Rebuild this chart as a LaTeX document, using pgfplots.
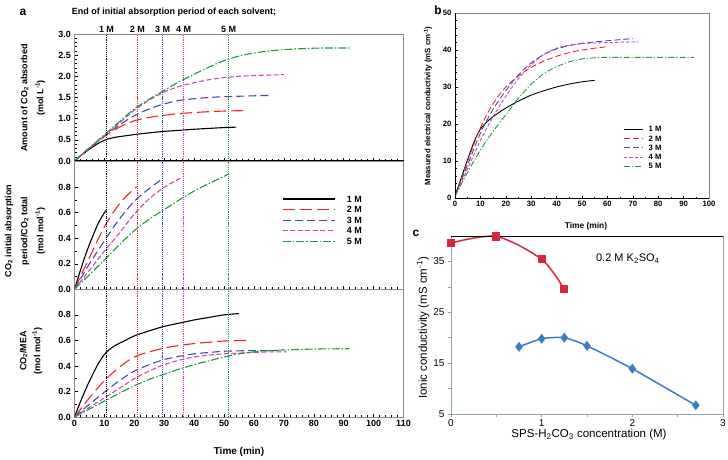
\documentclass[border=0pt]{standalone}
\usepackage{fontspec}
\setmainfont{Liberation Sans}
\usepackage{pgfplots}
\pgfplotsset{compat=1.18}
\definecolor{cRed}{HTML}{E8262A}
\definecolor{cBlue}{HTML}{3A4FA0}
\definecolor{cMag}{HTML}{CC44BB}
\definecolor{cGreen}{HTML}{1E9A3C}
\definecolor{cRedC}{HTML}{D7263D}
\definecolor{cBlueC}{HTML}{3B7CC2}
\definecolor{axgray}{HTML}{8A8A8A}
\definecolor{axgrayc}{HTML}{8FA3AF}
\tikzset{
  s1/.style={black, line width=1.1pt, solid},
  s2/.style={cRed, line width=1.1pt, dash pattern=on 12pt off 5pt},
  s3/.style={cBlue, line width=1.1pt, dash pattern=on 8pt off 4pt},
  s4/.style={cMag, line width=1.1pt, dash pattern=on 5pt off 2.5pt},
  s5/.style={cGreen, line width=1.1pt, dash pattern=on 8pt off 2pt on 1.5pt off 2pt},
  mlab/.style={anchor=south, inner sep=1.5pt, font=\fontsize{9}{11}\selectfont\bfseries},
}
\pgfplotsset{
  vl/.style={line width=0.9pt, densely dotted, forget plot},
  panelA/.style={scale only axis, width=329pt, xmin=0, xmax=110,
    xtick={0,10,...,110}, minor x tick num=4,
    xtick pos=bottom, ytick pos=left,
    axis line style={axgray, line width=0.8pt},
    tick style={black, line width=0.5pt},
    major tick length=3pt, minor tick length=2pt, tick align=inside,
    /pgf/number format/assume math mode=true,
    tick label style={font=\fontsize{9}{11}\selectfont\bfseries},
    yticklabel style={/pgf/number format/fixed, /pgf/number format/fixed zerofill, /pgf/number format/precision=1},
    every axis plot/.append style={smooth, mark=none}},
}
\begin{document}
\begin{tikzpicture}
\path[use as bounding box] (0pt,0pt) rectangle (728pt,459pt);
% ---------- panel a top
\begin{axis}[panelA, at={(74.5pt,298pt)}, anchor=south west, height=127pt,
  ymin=0, ymax=3, ytick={0,0.5,...,3}, minor y tick num=4, xticklabels={}, clip=false]
\addplot[s1] coordinates {(0,0)(2,0.12)(4,0.23)(6,0.33)(8,0.42)(10,0.49)(12,0.535)(14,0.565)(17,0.595)(20,0.625)(25,0.665)(30,0.70)(35,0.725)(40,0.75)(45,0.77)(50,0.79)(54,0.80)};
\addplot[s2] coordinates {(0,0)(5,0.3)(10,0.58)(15,0.8)(20,0.95)(25,1.03)(30,1.08)(35,1.12)(40,1.145)(45,1.165)(50,1.18)(57,1.19)};
\addplot[s3] coordinates {(0,0)(5,0.31)(10,0.59)(15,0.85)(20,1.07)(25,1.23)(30,1.35)(35,1.43)(40,1.47)(45,1.5)(50,1.52)(55,1.53)(60,1.54)(66,1.55)};
\addplot[s4] coordinates {(0,0)(5,0.31)(10,0.6)(15,0.9)(20,1.2)(25,1.44)(30,1.63)(35,1.76)(40,1.85)(45,1.92)(50,1.97)(55,2.0)(60,2.02)(65,2.03)(70,2.04)};
\addplot[s5] coordinates {(0,0)(5,0.31)(10,0.62)(15,0.93)(20,1.23)(25,1.46)(30,1.67)(35,1.87)(40,2.05)(45,2.22)(50,2.37)(55,2.48)(60,2.55)(65,2.6)(70,2.63)(75,2.65)(80,2.665)(85,2.67)(92,2.67)};
\addplot[vl, black] coordinates {(10.7,0)(10.7,3)};
\addplot[vl, cRed] coordinates {(21,0)(21,3)};
\addplot[vl, cBlue] coordinates {(29.5,0)(29.5,3)};
\addplot[vl, cMag] coordinates {(36.5,0)(36.5,3)};
\addplot[vl, cGreen] coordinates {(51.5,0)(51.5,3)};
\draw[black, line width=1.3pt] (rel axis cs:0,0) -- (rel axis cs:1,0);
\node[mlab] at (axis cs:10.7,3) {1 M};
\node[mlab] at (axis cs:21,3) {2 M};
\node[mlab] at (axis cs:29.5,3) {3 M};
\node[mlab] at (axis cs:36.5,3) {4 M};
\node[mlab] at (axis cs:51.5,3) {5 M};
\end{axis}
% ---------- panel a middle
\begin{axis}[panelA, at={(74.5pt,169.7pt)}, anchor=south west, height=127.6pt,
  ymin=0, ymax=1, ytick={0,0.2,...,0.8}, minor y tick num=1, xticklabels={},
  legend style={at={(0.622,0.76)}, anchor=north west, draw=none, fill=none,
    font=\fontsize{9}{10}\selectfont\bfseries, row sep=1.6pt,
    nodes={inner sep=0.5pt, text height=7pt, text depth=1pt},
    /tikz/every odd column/.append style={column sep=11pt}},
  legend image code/.code={\draw[#1] (0pt,0pt) -- (52pt,0pt);}]
\addplot[s1] coordinates {(0,0)(2,0.15)(4,0.29)(6,0.41)(8,0.52)(10,0.6)(10.7,0.62)};
\addplot[s2] coordinates {(0,0)(5,0.25)(10,0.49)(15,0.67)(20,0.79)(21,0.80)};
\addplot[s3] coordinates {(0,0)(5,0.2)(10,0.38)(15,0.55)(20,0.69)(25,0.79)(29.5,0.867)};
\addplot[s4] coordinates {(0,0)(5,0.15)(10,0.3)(15,0.44)(20,0.59)(25,0.71)(30,0.8)(36.5,0.885)};
\addplot[s5] coordinates {(0,0)(5,0.115)(10,0.23)(15,0.35)(20,0.46)(25,0.55)(30,0.625)(35,0.7)(40,0.77)(45,0.83)(50,0.885)(51.5,0.905)};
\legend{1 M, 2 M, 3 M, 4 M, 5 M}
\addplot[vl, black] coordinates {(10.7,0)(10.7,1)};
\addplot[vl, cRed] coordinates {(21,0)(21,1)};
\addplot[vl, cBlue] coordinates {(29.5,0)(29.5,1)};
\addplot[vl, cMag] coordinates {(36.5,0)(36.5,1)};
\addplot[vl, cGreen] coordinates {(51.5,0)(51.5,1)};
\end{axis}
% ---------- panel a bottom
\begin{axis}[panelA, at={(74.5pt,42pt)}, anchor=south west, height=127.7pt,
  ymin=0, ymax=1, ytick={0,0.2,...,0.8}, minor y tick num=1]
\addplot[s1] coordinates {(0,0)(2,0.12)(4,0.23)(6,0.33)(8,0.42)(10,0.49)(12,0.535)(14,0.565)(17,0.60)(20,0.635)(25,0.675)(30,0.71)(35,0.735)(40,0.76)(45,0.78)(50,0.80)(55,0.81)};
\addplot[s2] coordinates {(0,0)(5,0.15)(10,0.285)(15,0.39)(20,0.47)(25,0.51)(30,0.54)(35,0.56)(40,0.575)(45,0.585)(50,0.595)(59,0.60)};
\addplot[s3] coordinates {(0,0)(5,0.1)(10,0.195)(15,0.285)(20,0.36)(25,0.41)(30,0.45)(35,0.475)(40,0.495)(45,0.505)(50,0.515)(60,0.52)(68,0.52)};
\addplot[s4] coordinates {(0,0)(5,0.075)(10,0.15)(15,0.225)(20,0.30)(25,0.36)(30,0.41)(35,0.445)(40,0.47)(45,0.485)(50,0.495)(55,0.50)(60,0.505)(65,0.51)(71,0.51)};
\addplot[s5] coordinates {(0,0)(5,0.062)(10,0.124)(15,0.186)(20,0.245)(25,0.295)(30,0.335)(35,0.375)(40,0.41)(45,0.44)(50,0.47)(55,0.495)(60,0.51)(65,0.52)(70,0.525)(80,0.532)(92,0.535)};
\addplot[vl, black] coordinates {(10.7,0)(10.7,1)};
\addplot[vl, cRed] coordinates {(21,0)(21,1)};
\addplot[vl, cBlue] coordinates {(29.5,0)(29.5,1)};
\addplot[vl, cMag] coordinates {(36.5,0)(36.5,1)};
\addplot[vl, cGreen] coordinates {(51.5,0)(51.5,1)};
\end{axis}
% labels panel a
\node[font=\fontsize{12}{14}\selectfont\bfseries] at (23pt,447pt) {a};
\node[font=\fontsize{9}{11}\selectfont\bfseries] at (174pt,447pt) {End of initial absorption period of each solvent;};
\node[rotate=90, align=center, font=\fontsize{9}{16}\selectfont\bfseries] at (33pt,361pt) {Amount of CO\textsubscript{2} absorbed\\(mol L\textsuperscript{-1})};
\node[rotate=90, align=center, font=\fontsize{9}{16}\selectfont\bfseries] at (25pt,228pt) {CO\textsubscript{2} initial absorption\\period/CO\textsubscript{2} total\\(mol mol\textsuperscript{-1})};
\node[rotate=90, align=center, font=\fontsize{9}{14}\selectfont\bfseries] at (31pt,108pt) {CO\textsubscript{2}/MEA\\(mol mol\textsuperscript{-1})};
\node[font=\fontsize{10}{12}\selectfont\bfseries] at (239pt,7pt) {Time (min)};
% ---------- panel b
\begin{axis}[at={(455pt,261pt)}, anchor=south west, scale only axis, width=254pt, height=185pt,
  xmin=0, xmax=100, ymin=0, ymax=50, xtick={0,10,...,100}, ytick={0,10,...,50},
  minor x tick num=1, minor y tick num=4,
  axis line style={axgray, line width=1pt},
  tick style={black, line width=0.5pt}, major tick length=2.5pt, minor tick length=1.5pt, tick align=inside,
  xtick pos=bottom, ytick pos=left,
  /pgf/number format/assume math mode=true,
  tick label style={font=\fontsize{7.7}{9}\selectfont\bfseries},
  every axis plot/.append style={smooth, mark=none},
  legend style={at={(0.65,0.405)}, anchor=north west, draw=none, fill=none,
    font=\fontsize{7.7}{9}\selectfont\bfseries, row sep=1.3pt,
    nodes={inner sep=0.5pt, text height=6pt, text depth=1pt},
    /tikz/every odd column/.append style={column sep=5pt}},
  legend image code/.code={\draw[#1] (0pt,0pt) -- (19pt,0pt);}]
\addplot[s1, line width=0.9pt] coordinates {(0,0.5)(2,4.5)(4,8.5)(6,12.4)(8,16)(10,18.6)(12,20.2)(15,22)(20,24.3)(25,26.2)(30,27.8)(35,29)(40,30)(45,30.8)(50,31.4)(55,31.8)};
\addplot[s2, line width=0.9pt, dash pattern=on 6pt off 3pt] coordinates {(0,0.5)(5,10)(10,19)(15,25.5)(20,30)(25,33)(30,35.3)(35,37)(40,38.3)(45,39.3)(50,40)(55,40.5)(60,40.9)};
\addplot[s3, line width=0.9pt, dash pattern=on 6pt off 3pt] coordinates {(0,0.5)(5,9)(10,17.5)(15,24)(20,29)(25,33.3)(30,36.5)(35,38.8)(40,40.3)(45,41.2)(50,41.8)(55,42.2)(60,42.5)(65,42.8)(70,43.1)};
\addplot[s4, line width=0.9pt, dash pattern=on 3.5pt off 2pt] coordinates {(0,0.5)(5,8)(10,15.5)(15,22)(20,27.5)(25,32.3)(30,36)(35,38.8)(40,40.5)(45,41.3)(50,41.7)(55,41.9)(60,42)(65,42.1)(72,42.2)};
\addplot[s5, line width=0.9pt, dash pattern=on 6pt off 2pt on 1.2pt off 2pt] coordinates {(0,0.5)(5,7)(10,13)(15,18)(20,22.5)(25,27)(30,30.8)(35,33.6)(40,35.5)(45,36.8)(50,37.6)(55,37.9)(60,38)(70,38)(80,38)(94,38)};
\legend{1 M, 2 M, 3 M, 4 M, 5 M}
\draw[black, line width=1pt] (rel axis cs:0,1) -- (rel axis cs:0,0) -- (rel axis cs:1,0);
\end{axis}
\node[font=\fontsize{12}{14}\selectfont\bfseries] at (438pt,449pt) {b};
\node[rotate=90, font=\fontsize{7.8}{9}\selectfont\bfseries] at (428pt,353pt) {Measured electrical conductivity (mS cm\textsuperscript{-1})};
\node[font=\fontsize{8.4}{10}\selectfont\bfseries] at (586pt,233pt) {Time (min)};
% ---------- panel c
\begin{axis}[at={(451pt,45pt)}, anchor=south west, scale only axis, width=272pt, height=178pt,
  xmin=0, xmax=3, ymin=5, ymax=40, xtick={0,1,2,3}, ytick={5,15,25,35},
  minor xtick={0.5,1.5,2.5}, minor ytick={10,20,30},
  axis line style={axgrayc, line width=1pt},
  tick style={axgrayc, line width=0.6pt}, major tick length=3pt, minor tick length=3pt, tick align=outside,
  xtick pos=bottom, ytick pos=left,
  /pgf/number format/assume math mode=true,
  tick label style={font=\fontsize{10}{12}\selectfont},
  xticklabel style={yshift=1pt},
  clip=false]
\addplot[cRedC, line width=1.5pt, smooth, mark=square*, mark size=3.3pt, mark options={solid}] coordinates {(0,38.6)(0.5,39.9)(1,35.4)(1.25,29.5)};
\addplot[cBlueC, line width=1.5pt, smooth, tension=0.4, mark=diamond*, mark size=3.8pt, mark options={solid}] coordinates {(0.75,18.2)(1,19.8)(1.25,20.0)(1.5,18.4)(2,13.9)(2.7,6.7)};
\draw[black, line width=1pt] (rel axis cs:0,1) -- (rel axis cs:1,1);
\node[font=\fontsize{11}{13}\selectfont] at (axis cs:1.95,35.5) {0.2 M K\textsubscript{2}SO\textsubscript{4}};
\end{axis}
\node[font=\fontsize{12}{14}\selectfont\bfseries] at (416pt,226pt) {c};
\node[rotate=90, font=\fontsize{11.5}{13}\selectfont] at (423pt,131pt) {Ionic conductivity (mS cm\textsuperscript{-1})};
\node[font=\fontsize{11.5}{13}\selectfont, inner sep=1pt] at (589pt,24pt) {SPS-H\textsubscript{2}CO\textsubscript{3} concentration (M)};
\end{tikzpicture}
\end{document}
